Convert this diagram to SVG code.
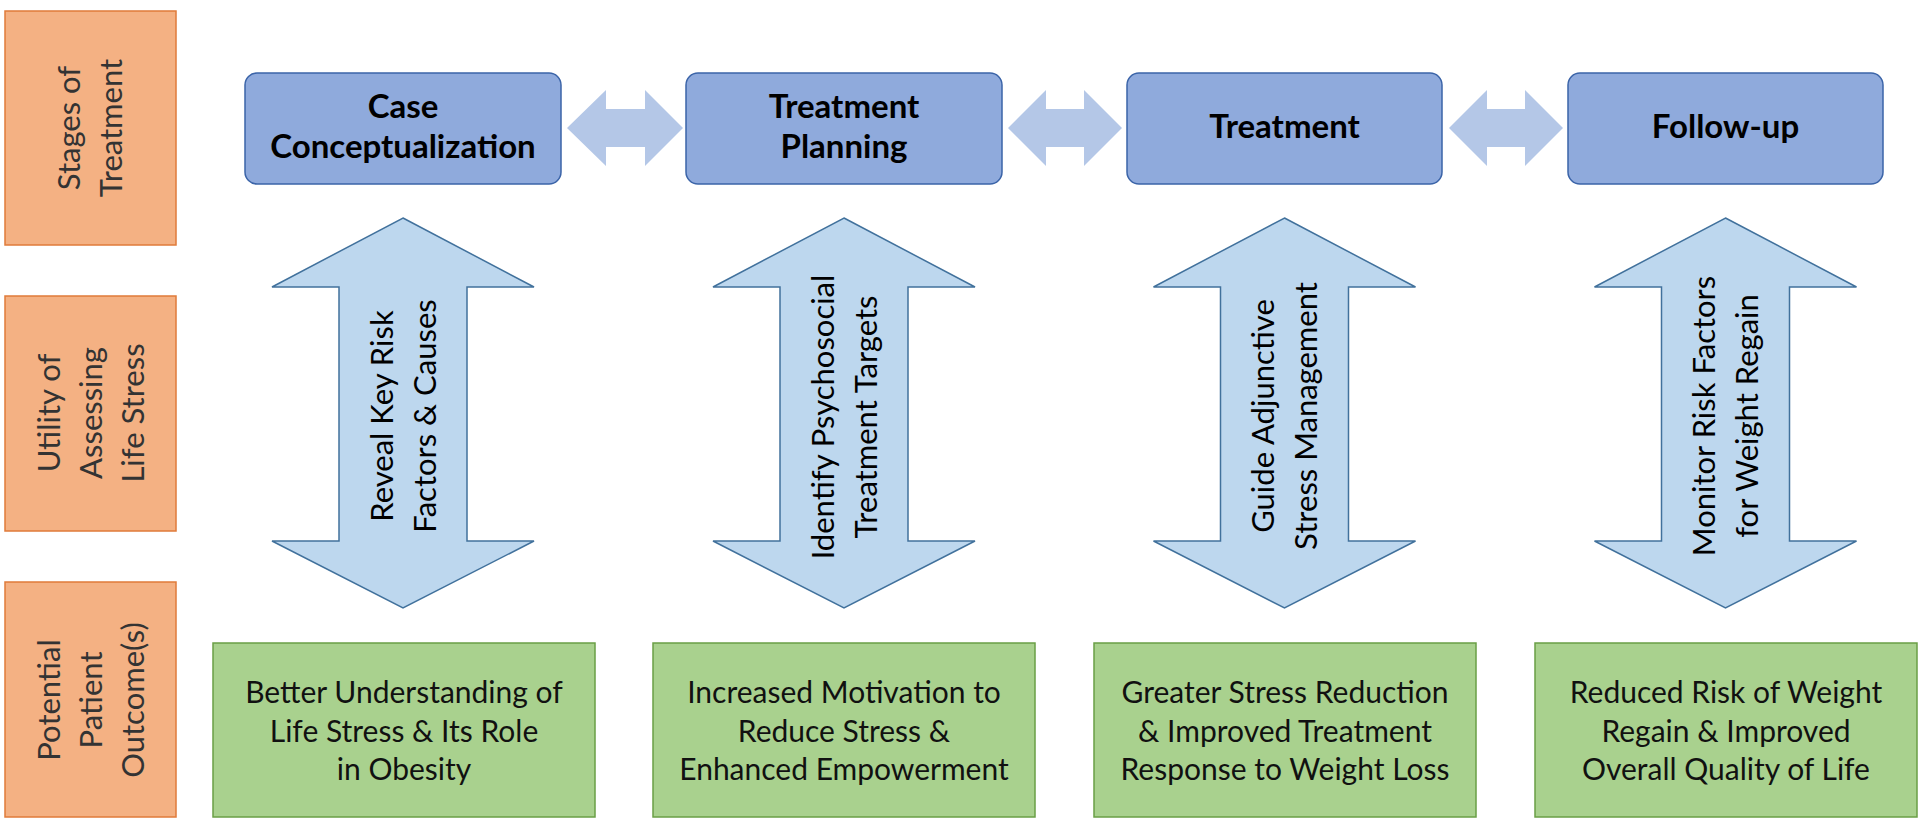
<svg xmlns="http://www.w3.org/2000/svg" width="1920" height="822" viewBox="0 0 1920 822">
<style>
  .lbl { fill: #F4B183; stroke: #E07B3A; stroke-width: 1.5; }
  .lbltxt { font-family: Lato, "Liberation Sans", sans-serif; font-size: 31px; fill: #333333; text-anchor: middle; }
  .stage { fill: #8FAADC; stroke: #3B64A8; stroke-width: 1.5; }
  .stagetxt { font-family: Lato, "Liberation Sans", sans-serif; font-size: 33px; font-weight: bold; fill: #000000; text-anchor: middle; }
  .harrow { fill: #B4C7E7; }
  .varrow { fill: #BDD7EE; stroke: #41719C; stroke-width: 1.5; }
  .arrtxt { font-family: Lato, "Liberation Sans", sans-serif; font-size: 31px; fill: #000000; text-anchor: middle; }
  .out { fill: #A9D18E; stroke: #6A9F45; stroke-width: 1.5; }
  .outtxt { font-family: Lato, "Liberation Sans", sans-serif; font-size: 30px; fill: #111111; text-anchor: middle; }
</style>
<defs>
  <polygon id="vdbl" points="0,218 131,287 64,287 64,541 131,541 0,608 -131,541 -64,541 -64,287 -131,287"/>
</defs>
<rect width="1920" height="822" fill="#FFFFFF"/>

<g id="row-labels">
  <g id="label-stages">
    <rect class="lbl" x="5" y="11" width="171" height="234"/>
    <text class="lbltxt" transform="translate(90.5,128) rotate(-90)"><tspan x="0" y="-10.5">Stages of</tspan><tspan x="0" y="31.5">Treatment</tspan></text>
  </g>
  <g id="label-utility">
    <rect class="lbl" x="5" y="296" width="171" height="235"/>
    <text class="lbltxt" transform="translate(90.5,413) rotate(-90)"><tspan x="0" y="-31">Utility of</tspan><tspan x="0" y="11">Assessing</tspan><tspan x="0" y="53">Life Stress</tspan></text>
  </g>
  <g id="label-outcomes">
    <rect class="lbl" x="5" y="582" width="171" height="235"/>
    <text class="lbltxt" transform="translate(90.5,700) rotate(-90)"><tspan x="0" y="-31">Potential</tspan><tspan x="0" y="11">Patient</tspan><tspan x="0" y="53">Outcome(s)</tspan></text>
  </g>
</g>

<g id="connectors">
  <polygon class="harrow" points="567,128 606,90 606,109 645,109 645,90 683,128 645,166 645,147 606,147 606,166"/>
  <polygon class="harrow" points="1008,128 1046,90 1046,109 1084,109 1084,90 1122,128 1084,166 1084,147 1046,147 1046,166"/>
  <polygon class="harrow" points="1449,128 1487,90 1487,109 1525,109 1525,90 1563,128 1525,166 1525,147 1487,147 1487,166"/>
</g>

<g id="stage-case">
  <rect class="stage" x="245" y="73" width="316" height="111" rx="12"/>
  <text class="stagetxt"><tspan x="403" y="118">Case</tspan><tspan x="403" y="158">Conceptualization</tspan></text>
</g>
<g id="stage-planning">
  <rect class="stage" x="686" y="73" width="316" height="111" rx="12"/>
  <text class="stagetxt"><tspan x="844" y="118">Treatment</tspan><tspan x="844" y="158">Planning</tspan></text>
</g>
<g id="stage-treatment">
  <rect class="stage" x="1127" y="73" width="315" height="111" rx="12"/>
  <text class="stagetxt" x="1284.5" y="138">Treatment</text>
</g>
<g id="stage-followup">
  <rect class="stage" x="1568" y="73" width="315" height="111" rx="12"/>
  <text class="stagetxt" x="1725.5" y="138">Follow-up</text>
</g>

<g id="utility-reveal">
  <use href="#vdbl" class="varrow" transform="translate(403,0)"/>
  <text class="arrtxt" transform="translate(403,416) rotate(-90)"><tspan x="0" y="-10.5">Reveal Key Risk</tspan><tspan x="0" y="32.5">Factors &amp; Causes</tspan></text>
</g>
<g id="utility-identify">
  <use href="#vdbl" class="varrow" transform="translate(844,0)"/>
  <text class="arrtxt" transform="translate(844,417) rotate(-90)"><tspan x="0" y="-10.5">Identify Psychosocial</tspan><tspan x="0" y="32.5">Treatment Targets</tspan></text>
</g>
<g id="utility-guide">
  <use href="#vdbl" class="varrow" transform="translate(1284.5,0)"/>
  <text class="arrtxt" transform="translate(1284.5,416) rotate(-90)"><tspan x="0" y="-10.5">Guide Adjunctive</tspan><tspan x="0" y="32.5">Stress Management</tspan></text>
</g>
<g id="utility-monitor">
  <use href="#vdbl" class="varrow" transform="translate(1725.5,0)"/>
  <text class="arrtxt" transform="translate(1725.5,416) rotate(-90)"><tspan x="0" y="-10.5">Monitor Risk Factors</tspan><tspan x="0" y="32.5">for Weight Regain</tspan></text>
</g>

<g id="outcome-understanding">
  <rect class="out" x="213" y="643" width="382" height="174"/>
  <text class="outtxt"><tspan x="404" y="703">Better Understanding of</tspan><tspan x="404" y="741.5">Life Stress &amp; Its Role</tspan><tspan x="404" y="780">in Obesity</tspan></text>
</g>
<g id="outcome-motivation">
  <rect class="out" x="653" y="643" width="382" height="174"/>
  <text class="outtxt"><tspan x="844" y="703">Increased Motivation to</tspan><tspan x="844" y="741.5">Reduce Stress &amp;</tspan><tspan x="844" y="780">Enhanced Empowerment</tspan></text>
</g>
<g id="outcome-stress">
  <rect class="out" x="1094" y="643" width="382" height="174"/>
  <text class="outtxt"><tspan x="1285" y="703">Greater Stress Reduction</tspan><tspan x="1285" y="741.5">&amp; Improved Treatment</tspan><tspan x="1285" y="780">Response to Weight Loss</tspan></text>
</g>
<g id="outcome-risk">
  <rect class="out" x="1535" y="643" width="382" height="174"/>
  <text class="outtxt"><tspan x="1726" y="703">Reduced Risk of Weight</tspan><tspan x="1726" y="741.5">Regain &amp; Improved</tspan><tspan x="1726" y="780">Overall Quality of Life</tspan></text>
</g>
</svg>
